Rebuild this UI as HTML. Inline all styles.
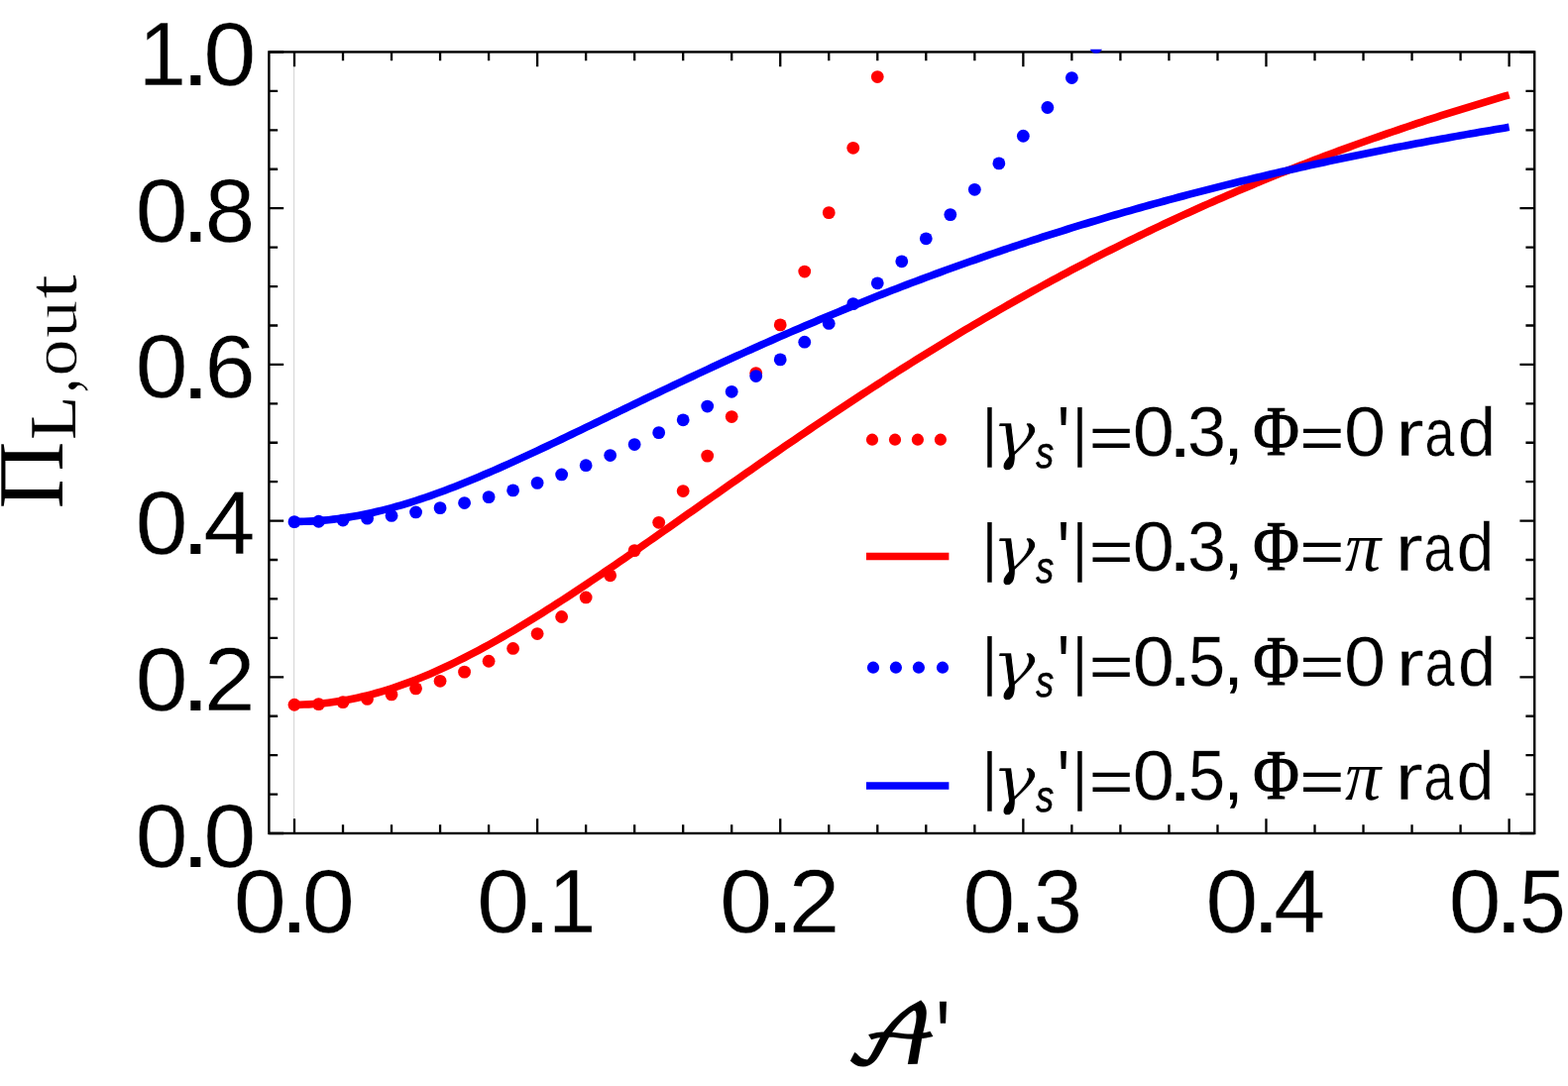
<!DOCTYPE html>
<html lang="en"><head><meta charset="utf-8"><title>Output linear polarisation versus amplitude</title>
<style>
html,body{margin:0;padding:0;background:#fff;}
body{width:1582px;height:1096px;overflow:hidden;position:relative;}
svg{position:absolute;left:0;top:0;display:block;}
text{fill:#000;}
text{font-kerning:none;font-variant-ligatures:none;white-space:pre;text-rendering:geometricPrecision;}
.sans{font-family:"Liberation Sans",sans-serif;}
.sansi{font-family:"Liberation Sans",sans-serif;font-style:italic;}
.serif{font-family:"Liberation Serif","DejaVu Serif",serif;}
.ital{font-family:"Liberation Serif","DejaVu Serif",serif;font-style:italic;}
.script{font-family:"DejaVu Math TeX Gyre","DejaVu Serif",serif;}
.dserif{font-family:"DejaVu Serif","Liberation Serif",serif;}
.dital{font-family:"DejaVu Serif","Liberation Serif",serif;font-style:italic;}
</style></head><body>
<svg width="1582" height="1096" viewBox="0 0 1582 1096" role="img" aria-label="Output linear polarisation versus amplitude for two coupling strengths and two phases">
<rect x="0" y="0" width="1582" height="1096" fill="#fff"/>
<defs><clipPath id="plot"><rect x="268.8" y="49.85" width="1282" height="793.75"/></clipPath></defs>
<line x1="296.68" y1="52.45" x2="296.68" y2="841" stroke="#d2d2d2" stroke-width="1"/>
<g stroke="#000" stroke-width="2.3" fill="none">
<path d="M297 52.45 v14.8 M297 841 v-14.8 M346.02 52.45 v8.8 M346.02 841 v-8.8 M395.05 52.45 v8.8 M395.05 841 v-8.8 M444.07 52.45 v8.8 M444.07 841 v-8.8 M493.1 52.45 v8.8 M493.1 841 v-8.8 M542.12 52.45 v14.8 M542.12 841 v-14.8 M591.14 52.45 v8.8 M591.14 841 v-8.8 M640.17 52.45 v8.8 M640.17 841 v-8.8 M689.19 52.45 v8.8 M689.19 841 v-8.8 M738.22 52.45 v8.8 M738.22 841 v-8.8 M787.24 52.45 v14.8 M787.24 841 v-14.8 M836.26 52.45 v8.8 M836.26 841 v-8.8 M885.29 52.45 v8.8 M885.29 841 v-8.8 M934.31 52.45 v8.8 M934.31 841 v-8.8 M983.34 52.45 v8.8 M983.34 841 v-8.8 M1032.36 52.45 v14.8 M1032.36 841 v-14.8 M1081.38 52.45 v8.8 M1081.38 841 v-8.8 M1130.41 52.45 v8.8 M1130.41 841 v-8.8 M1179.43 52.45 v8.8 M1179.43 841 v-8.8 M1228.46 52.45 v8.8 M1228.46 841 v-8.8 M1277.48 52.45 v14.8 M1277.48 841 v-14.8 M1326.5 52.45 v8.8 M1326.5 841 v-8.8 M1375.53 52.45 v8.8 M1375.53 841 v-8.8 M1424.55 52.45 v8.8 M1424.55 841 v-8.8 M1473.58 52.45 v8.8 M1473.58 841 v-8.8 M1522.6 52.45 v14.8 M1522.6 841 v-14.8 M271.4 841 h14.8 M1548.2 841 h-14.8 M271.4 801.58 h8.8 M1548.2 801.58 h-8.8 M271.4 762.15 h8.8 M1548.2 762.15 h-8.8 M271.4 722.73 h8.8 M1548.2 722.73 h-8.8 M271.4 683.3 h14.8 M1548.2 683.3 h-14.8 M271.4 643.88 h8.8 M1548.2 643.88 h-8.8 M271.4 604.45 h8.8 M1548.2 604.45 h-8.8 M271.4 565.02 h8.8 M1548.2 565.02 h-8.8 M271.4 525.6 h14.8 M1548.2 525.6 h-14.8 M271.4 486.18 h8.8 M1548.2 486.18 h-8.8 M271.4 446.75 h8.8 M1548.2 446.75 h-8.8 M271.4 407.32 h8.8 M1548.2 407.32 h-8.8 M271.4 367.9 h14.8 M1548.2 367.9 h-14.8 M271.4 328.48 h8.8 M1548.2 328.48 h-8.8 M271.4 289.05 h8.8 M1548.2 289.05 h-8.8 M271.4 249.62 h8.8 M1548.2 249.62 h-8.8 M271.4 210.2 h14.8 M1548.2 210.2 h-14.8 M271.4 170.77 h8.8 M1548.2 170.77 h-8.8 M271.4 131.35 h8.8 M1548.2 131.35 h-8.8 M271.4 91.92 h8.8 M1548.2 91.92 h-8.8 M271.4 52.5 h14.8 M1548.2 52.5 h-14.8"/>
</g>
<rect x="271.4" y="52.45" width="1276.8" height="788.55" fill="none" stroke="#000" stroke-width="2.4"/>
<g clip-path="url(#plot)">
<g fill="#ff0000">
<circle cx="297" cy="711.27" r="6.4"/>
<circle cx="321.51" cy="710.63" r="6.4"/>
<circle cx="346.02" cy="708.71" r="6.4"/>
<circle cx="370.54" cy="705.47" r="6.4"/>
<circle cx="395.05" cy="700.88" r="6.4"/>
<circle cx="419.56" cy="694.86" r="6.4"/>
<circle cx="444.07" cy="687.32" r="6.4"/>
<circle cx="468.58" cy="678.15" r="6.4"/>
<circle cx="493.1" cy="667.24" r="6.4"/>
<circle cx="517.61" cy="654.44" r="6.4"/>
<circle cx="542.12" cy="639.58" r="6.4"/>
<circle cx="566.63" cy="622.48" r="6.4"/>
<circle cx="591.14" cy="602.94" r="6.4"/>
<circle cx="615.66" cy="580.73" r="6.4"/>
<circle cx="640.17" cy="555.61" r="6.4"/>
<circle cx="664.68" cy="527.33" r="6.4"/>
<circle cx="689.19" cy="495.59" r="6.4"/>
<circle cx="713.7" cy="460.11" r="6.4"/>
<circle cx="738.22" cy="420.56" r="6.4"/>
<circle cx="762.73" cy="376.61" r="6.4"/>
<circle cx="787.24" cy="327.89" r="6.4"/>
<circle cx="811.75" cy="274.03" r="6.4"/>
<circle cx="836.26" cy="214.63" r="6.4"/>
<circle cx="860.78" cy="149.29" r="6.4"/>
<circle cx="885.29" cy="77.55" r="6.4"/>
</g>
<path d="M297 711.23 L301.9 711.19 L306.8 711.06 L311.71 710.85 L316.61 710.55 L321.51 710.17 L326.41 709.71 L331.32 709.16 L336.22 708.53 L341.12 707.82 L346.02 707.02 L350.93 706.15 L355.83 705.19 L360.73 704.16 L365.63 703.05 L370.54 701.86 L375.44 700.59 L380.34 699.25 L385.24 697.83 L390.15 696.35 L395.05 694.79 L399.95 693.16 L404.85 691.46 L409.76 689.69 L414.66 687.86 L419.56 685.96 L424.46 684 L429.36 681.98 L434.27 679.89 L439.17 677.75 L444.07 675.55 L448.97 673.3 L453.88 670.99 L458.78 668.62 L463.68 666.21 L468.58 663.74 L473.49 661.23 L478.39 658.67 L483.29 656.06 L488.19 653.41 L493.1 650.72 L498 647.99 L502.9 645.21 L507.8 642.4 L512.71 639.55 L517.61 636.67 L522.51 633.75 L527.41 630.79 L532.32 627.81 L537.22 624.8 L542.12 621.75 L547.02 618.68 L551.92 615.58 L556.83 612.46 L561.73 609.31 L566.63 606.14 L571.53 602.95 L576.44 599.74 L581.34 596.5 L586.24 593.25 L591.14 589.98 L596.05 586.69 L600.95 583.39 L605.85 580.07 L610.75 576.74 L615.66 573.39 L620.56 570.03 L625.46 566.66 L630.36 563.28 L635.27 559.89 L640.17 556.5 L645.07 553.09 L649.97 549.67 L654.88 546.25 L659.78 542.83 L664.68 539.4 L669.58 535.96 L674.48 532.52 L679.39 529.08 L684.29 525.63 L689.19 522.18 L694.09 518.73 L699 515.28 L703.9 511.83 L708.8 508.38 L713.7 504.93 L718.61 501.49 L723.51 498.04 L728.41 494.6 L733.31 491.15 L738.22 487.72 L743.12 484.28 L748.02 480.85 L752.92 477.43 L757.83 474.01 L762.73 470.59 L767.63 467.19 L772.53 463.78 L777.44 460.39 L782.34 457 L787.24 453.62 L792.14 450.24 L797.04 446.88 L801.95 443.52 L806.85 440.17 L811.75 436.83 L816.65 433.5 L821.56 430.18 L826.46 426.87 L831.36 423.57 L836.26 420.28 L841.17 417 L846.07 413.73 L850.97 410.47 L855.87 407.22 L860.78 403.98 L865.68 400.76 L870.58 397.55 L875.48 394.35 L880.39 391.16 L885.29 387.98 L890.19 384.82 L895.09 381.67 L900 378.53 L904.9 375.41 L909.8 372.29 L914.7 369.2 L919.6 366.11 L924.51 363.04 L929.41 359.98 L934.31 356.94 L939.21 353.91 L944.12 350.9 L949.02 347.89 L953.92 344.91 L958.82 341.94 L963.73 338.98 L968.63 336.03 L973.53 333.11 L978.43 330.19 L983.34 327.29 L988.24 324.41 L993.14 321.54 L998.04 318.68 L1002.95 315.84 L1007.85 313.02 L1012.75 310.21 L1017.65 307.41 L1022.56 304.63 L1027.46 301.87 L1032.36 299.12 L1037.26 296.39 L1042.16 293.67 L1047.07 290.96 L1051.97 288.28 L1056.87 285.6 L1061.77 282.94 L1066.68 280.3 L1071.58 277.68 L1076.48 275.06 L1081.38 272.47 L1086.29 269.89 L1091.19 267.32 L1096.09 264.77 L1100.99 262.23 L1105.9 259.71 L1110.8 257.21 L1115.7 254.72 L1120.6 252.24 L1125.51 249.78 L1130.41 247.34 L1135.31 244.91 L1140.21 242.49 L1145.12 240.09 L1150.02 237.71 L1154.92 235.34 L1159.82 232.98 L1164.72 230.64 L1169.63 228.32 L1174.53 226.01 L1179.43 223.71 L1184.33 221.43 L1189.24 219.17 L1194.14 216.91 L1199.04 214.68 L1203.94 212.45 L1208.85 210.24 L1213.75 208.05 L1218.65 205.87 L1223.55 203.7 L1228.46 201.55 L1233.36 199.41 L1238.26 197.29 L1243.16 195.18 L1248.07 193.09 L1252.97 191 L1257.87 188.94 L1262.77 186.88 L1267.68 184.84 L1272.58 182.81 L1277.48 180.8 L1282.38 178.8 L1287.28 176.81 L1292.19 174.84 L1297.09 172.88 L1301.99 170.93 L1306.89 169 L1311.8 167.08 L1316.7 165.17 L1321.6 163.28 L1326.5 161.39 L1331.41 159.52 L1336.31 157.67 L1341.21 155.82 L1346.11 153.99 L1351.02 152.17 L1355.92 150.37 L1360.82 148.57 L1365.72 146.79 L1370.63 145.02 L1375.53 143.26 L1380.43 141.52 L1385.33 139.78 L1390.24 138.06 L1395.14 136.35 L1400.04 134.65 L1404.94 132.97 L1409.84 131.29 L1414.75 129.63 L1419.65 127.98 L1424.55 126.34 L1429.45 124.71 L1434.36 123.09 L1439.26 121.48 L1444.16 119.88 L1449.06 118.3 L1453.97 116.73 L1458.87 115.16 L1463.77 113.61 L1468.67 112.07 L1473.58 110.54 L1478.48 109.02 L1483.38 107.51 L1488.28 106.01 L1493.19 104.52 L1498.09 103.04 L1502.99 101.57 L1507.89 100.11 L1512.8 98.66 L1517.7 97.22 L1522.6 95.79" fill="none" stroke="#ff0000" stroke-width="7.6" stroke-linejoin="round"/>
<g fill="#0000ff">
<circle cx="297" cy="526.64" r="6.4"/>
<circle cx="321.51" cy="526.25" r="6.4"/>
<circle cx="346.02" cy="525.09" r="6.4"/>
<circle cx="370.54" cy="523.15" r="6.4"/>
<circle cx="395.05" cy="520.43" r="6.4"/>
<circle cx="419.56" cy="516.92" r="6.4"/>
<circle cx="444.07" cy="512.63" r="6.4"/>
<circle cx="468.58" cy="507.53" r="6.4"/>
<circle cx="493.1" cy="501.63" r="6.4"/>
<circle cx="517.61" cy="494.9" r="6.4"/>
<circle cx="542.12" cy="487.35" r="6.4"/>
<circle cx="566.63" cy="478.95" r="6.4"/>
<circle cx="591.14" cy="469.7" r="6.4"/>
<circle cx="615.66" cy="459.57" r="6.4"/>
<circle cx="640.17" cy="448.56" r="6.4"/>
<circle cx="664.68" cy="436.64" r="6.4"/>
<circle cx="689.19" cy="423.81" r="6.4"/>
<circle cx="713.7" cy="410.03" r="6.4"/>
<circle cx="738.22" cy="395.3" r="6.4"/>
<circle cx="762.73" cy="379.59" r="6.4"/>
<circle cx="787.24" cy="362.89" r="6.4"/>
<circle cx="811.75" cy="345.18" r="6.4"/>
<circle cx="836.26" cy="326.44" r="6.4"/>
<circle cx="860.78" cy="306.65" r="6.4"/>
<circle cx="885.29" cy="285.78" r="6.4"/>
<circle cx="909.8" cy="263.84" r="6.4"/>
<circle cx="934.31" cy="240.79" r="6.4"/>
<circle cx="958.82" cy="216.62" r="6.4"/>
<circle cx="983.34" cy="191.32" r="6.4"/>
<circle cx="1007.85" cy="164.88" r="6.4"/>
<circle cx="1032.36" cy="137.27" r="6.4"/>
<circle cx="1056.87" cy="108.5" r="6.4"/>
<circle cx="1081.38" cy="78.55" r="6.4"/>
<circle cx="1105.9" cy="47.42" r="6.4"/>
</g>
<path d="M297 526.45 L301.9 526.41 L306.8 526.3 L311.71 526.12 L316.61 525.87 L321.51 525.54 L326.41 525.15 L331.32 524.68 L336.22 524.14 L341.12 523.54 L346.02 522.86 L350.93 522.12 L355.83 521.31 L360.73 520.43 L365.63 519.49 L370.54 518.49 L375.44 517.42 L380.34 516.3 L385.24 515.11 L390.15 513.86 L395.05 512.56 L399.95 511.2 L404.85 509.79 L409.76 508.33 L414.66 506.82 L419.56 505.25 L424.46 503.64 L429.36 501.99 L434.27 500.29 L439.17 498.54 L444.07 496.76 L448.97 494.94 L453.88 493.07 L458.78 491.18 L463.68 489.24 L468.58 487.28 L473.49 485.28 L478.39 483.26 L483.29 481.2 L488.19 479.12 L493.1 477.01 L498 474.88 L502.9 472.73 L507.8 470.55 L512.71 468.36 L517.61 466.14 L522.51 463.91 L527.41 461.66 L532.32 459.4 L537.22 457.12 L542.12 454.83 L547.02 452.53 L551.92 450.22 L556.83 447.9 L561.73 445.57 L566.63 443.23 L571.53 440.89 L576.44 438.53 L581.34 436.18 L586.24 433.82 L591.14 431.45 L596.05 429.09 L600.95 426.72 L605.85 424.35 L610.75 421.97 L615.66 419.6 L620.56 417.23 L625.46 414.86 L630.36 412.49 L635.27 410.12 L640.17 407.76 L645.07 405.4 L649.97 403.04 L654.88 400.68 L659.78 398.33 L664.68 395.98 L669.58 393.64 L674.48 391.31 L679.39 388.98 L684.29 386.65 L689.19 384.34 L694.09 382.02 L699 379.72 L703.9 377.42 L708.8 375.13 L713.7 372.85 L718.61 370.57 L723.51 368.31 L728.41 366.05 L733.31 363.8 L738.22 361.56 L743.12 359.32 L748.02 357.1 L752.92 354.88 L757.83 352.68 L762.73 350.48 L767.63 348.29 L772.53 346.11 L777.44 343.94 L782.34 341.79 L787.24 339.64 L792.14 337.5 L797.04 335.37 L801.95 333.25 L806.85 331.14 L811.75 329.04 L816.65 326.95 L821.56 324.88 L826.46 322.81 L831.36 320.75 L836.26 318.7 L841.17 316.67 L846.07 314.64 L850.97 312.63 L855.87 310.62 L860.78 308.63 L865.68 306.65 L870.58 304.67 L875.48 302.71 L880.39 300.76 L885.29 298.82 L890.19 296.89 L895.09 294.97 L900 293.07 L904.9 291.17 L909.8 289.28 L914.7 287.41 L919.6 285.55 L924.51 283.69 L929.41 281.85 L934.31 280.02 L939.21 278.2 L944.12 276.39 L949.02 274.59 L953.92 272.8 L958.82 271.02 L963.73 269.25 L968.63 267.49 L973.53 265.75 L978.43 264.01 L983.34 262.29 L988.24 260.57 L993.14 258.87 L998.04 257.18 L1002.95 255.5 L1007.85 253.82 L1012.75 252.16 L1017.65 250.51 L1022.56 248.87 L1027.46 247.24 L1032.36 245.62 L1037.26 244.01 L1042.16 242.41 L1047.07 240.82 L1051.97 239.24 L1056.87 237.68 L1061.77 236.12 L1066.68 234.57 L1071.58 233.03 L1076.48 231.5 L1081.38 229.98 L1086.29 228.48 L1091.19 226.98 L1096.09 225.49 L1100.99 224.01 L1105.9 222.54 L1110.8 221.08 L1115.7 219.63 L1120.6 218.19 L1125.51 216.76 L1130.41 215.34 L1135.31 213.93 L1140.21 212.53 L1145.12 211.14 L1150.02 209.76 L1154.92 208.38 L1159.82 207.02 L1164.72 205.66 L1169.63 204.32 L1174.53 202.98 L1179.43 201.65 L1184.33 200.33 L1189.24 199.03 L1194.14 197.72 L1199.04 196.43 L1203.94 195.15 L1208.85 193.88 L1213.75 192.61 L1218.65 191.35 L1223.55 190.11 L1228.46 188.87 L1233.36 187.64 L1238.26 186.41 L1243.16 185.2 L1248.07 183.99 L1252.97 182.8 L1257.87 181.61 L1262.77 180.43 L1267.68 179.26 L1272.58 178.09 L1277.48 176.93 L1282.38 175.79 L1287.28 174.65 L1292.19 173.51 L1297.09 172.39 L1301.99 171.27 L1306.89 170.17 L1311.8 169.06 L1316.7 167.97 L1321.6 166.89 L1326.5 165.81 L1331.41 164.74 L1336.31 163.67 L1341.21 162.62 L1346.11 161.57 L1351.02 160.53 L1355.92 159.5 L1360.82 158.47 L1365.72 157.45 L1370.63 156.44 L1375.53 155.43 L1380.43 154.44 L1385.33 153.44 L1390.24 152.46 L1395.14 151.48 L1400.04 150.51 L1404.94 149.55 L1409.84 148.59 L1414.75 147.64 L1419.65 146.7 L1424.55 145.76 L1429.45 144.83 L1434.36 143.91 L1439.26 142.99 L1444.16 142.08 L1449.06 141.18 L1453.97 140.28 L1458.87 139.39 L1463.77 138.5 L1468.67 137.62 L1473.58 136.75 L1478.48 135.88 L1483.38 135.02 L1488.28 134.17 L1493.19 133.32 L1498.09 132.48 L1502.99 131.64 L1507.89 130.81 L1512.8 129.98 L1517.7 129.16 L1522.6 128.35" fill="none" stroke="#0000ff" stroke-width="7.6" stroke-linejoin="round"/>
</g>
<g id="ticklabels">
<text><tspan class="sans" x="136.47" y="874.52" font-size="90.62" stroke="#fff" stroke-width="0.4" textLength="53.16" lengthAdjust="spacingAndGlyphs">0</tspan><tspan class="sans" x="182.86" y="874.65" font-size="93.52" textLength="29.18" lengthAdjust="spacingAndGlyphs">.</tspan><tspan class="sans" x="205.27" y="874.52" font-size="90.62" stroke="#fff" stroke-width="0.4" textLength="53.16" lengthAdjust="spacingAndGlyphs">0</tspan></text>
<text><tspan class="sans" x="136.47" y="716.82" font-size="90.62" stroke="#fff" stroke-width="0.4" textLength="53.16" lengthAdjust="spacingAndGlyphs">0</tspan><tspan class="sans" x="182.86" y="716.95" font-size="93.52" textLength="29.18" lengthAdjust="spacingAndGlyphs">.</tspan><tspan class="sans" x="206.12" y="717.05" font-size="90.95" stroke="#fff" stroke-width="0.4" textLength="51.56" lengthAdjust="spacingAndGlyphs">2</tspan></text>
<text><tspan class="sans" x="136.47" y="559.12" font-size="90.62" stroke="#fff" stroke-width="0.4" textLength="53.16" lengthAdjust="spacingAndGlyphs">0</tspan><tspan class="sans" x="182.86" y="559.25" font-size="93.52" textLength="29.18" lengthAdjust="spacingAndGlyphs">.</tspan><tspan class="sans" x="205.23" y="559.35" font-size="91.29" stroke="#fff" stroke-width="0.4" textLength="52.35" lengthAdjust="spacingAndGlyphs">4</tspan></text>
<text><tspan class="sans" x="136.47" y="401.42" font-size="90.62" stroke="#fff" stroke-width="0.4" textLength="53.16" lengthAdjust="spacingAndGlyphs">0</tspan><tspan class="sans" x="182.86" y="401.55" font-size="93.52" textLength="29.18" lengthAdjust="spacingAndGlyphs">.</tspan><tspan class="sans" x="206.43" y="401.47" font-size="89.69" stroke="#fff" stroke-width="0.4" textLength="51.14" lengthAdjust="spacingAndGlyphs">6</tspan></text>
<text><tspan class="sans" x="136.47" y="243.72" font-size="90.62" stroke="#fff" stroke-width="0.4" textLength="53.16" lengthAdjust="spacingAndGlyphs">0</tspan><tspan class="sans" x="182.86" y="243.85" font-size="93.52" textLength="29.18" lengthAdjust="spacingAndGlyphs">.</tspan><tspan class="sans" x="206.68" y="243.76" font-size="90.68" stroke="#fff" stroke-width="0.4">8</tspan></text>
<text><tspan class="sans" x="139.71" y="86.25" font-size="91.48" stroke="#fff" stroke-width="0.4" textLength="48.36" lengthAdjust="spacingAndGlyphs">1</tspan><tspan class="sans" x="182.86" y="86.15" font-size="93.52" textLength="29.18" lengthAdjust="spacingAndGlyphs">.</tspan><tspan class="sans" x="205.27" y="86.02" font-size="90.62" stroke="#fff" stroke-width="0.4" textLength="53.16" lengthAdjust="spacingAndGlyphs">0</tspan></text>
<text><tspan class="sans" x="235.87" y="941.02" font-size="90.62" stroke="#fff" stroke-width="0.4" textLength="53.16" lengthAdjust="spacingAndGlyphs">0</tspan><tspan class="sans" x="282.26" y="941.15" font-size="93.52" textLength="29.18" lengthAdjust="spacingAndGlyphs">.</tspan><tspan class="sans" x="304.67" y="941.02" font-size="90.62" stroke="#fff" stroke-width="0.4" textLength="53.16" lengthAdjust="spacingAndGlyphs">0</tspan></text>
<text><tspan class="sans" x="480.99" y="941.02" font-size="90.62" stroke="#fff" stroke-width="0.4" textLength="53.16" lengthAdjust="spacingAndGlyphs">0</tspan><tspan class="sans" x="527.38" y="941.15" font-size="93.52" textLength="29.18" lengthAdjust="spacingAndGlyphs">.</tspan><tspan class="sans" x="553.03" y="941.25" font-size="91.48" stroke="#fff" stroke-width="0.4" textLength="48.36" lengthAdjust="spacingAndGlyphs">1</tspan></text>
<text><tspan class="sans" x="726.11" y="941.02" font-size="90.62" stroke="#fff" stroke-width="0.4" textLength="53.16" lengthAdjust="spacingAndGlyphs">0</tspan><tspan class="sans" x="772.5" y="941.15" font-size="93.52" textLength="29.18" lengthAdjust="spacingAndGlyphs">.</tspan><tspan class="sans" x="795.76" y="941.25" font-size="90.95" stroke="#fff" stroke-width="0.4" textLength="51.56" lengthAdjust="spacingAndGlyphs">2</tspan></text>
<text><tspan class="sans" x="971.23" y="941.02" font-size="90.62" stroke="#fff" stroke-width="0.4" textLength="53.16" lengthAdjust="spacingAndGlyphs">0</tspan><tspan class="sans" x="1017.62" y="941.15" font-size="93.52" textLength="29.18" lengthAdjust="spacingAndGlyphs">.</tspan><tspan class="sans" x="1042.72" y="941.06" font-size="90.68" stroke="#fff" stroke-width="0.4" textLength="49.26" lengthAdjust="spacingAndGlyphs">3</tspan></text>
<text><tspan class="sans" x="1216.35" y="941.02" font-size="90.62" stroke="#fff" stroke-width="0.4" textLength="53.16" lengthAdjust="spacingAndGlyphs">0</tspan><tspan class="sans" x="1262.74" y="941.15" font-size="93.52" textLength="29.18" lengthAdjust="spacingAndGlyphs">.</tspan><tspan class="sans" x="1285.11" y="941.25" font-size="91.29" stroke="#fff" stroke-width="0.4" textLength="52.35" lengthAdjust="spacingAndGlyphs">4</tspan></text>
<text><tspan class="sans" x="1461.47" y="941.02" font-size="90.62" stroke="#fff" stroke-width="0.4" textLength="53.16" lengthAdjust="spacingAndGlyphs">0</tspan><tspan class="sans" x="1507.86" y="941.15" font-size="93.52" textLength="29.18" lengthAdjust="spacingAndGlyphs">.</tspan><tspan class="sans" x="1532.87" y="941.06" font-size="91.01" stroke="#fff" stroke-width="0.4" textLength="47.16" lengthAdjust="spacingAndGlyphs">5</tspan></text>
</g>
<text transform="rotate(-90)"><tspan class="serif" x="-513.52" y="62.6" font-size="94.23">Π</tspan><tspan class="serif" x="-443.88" y="76.3" font-size="66.74" textLength="44" lengthAdjust="spacingAndGlyphs">L</tspan><tspan class="serif" x="-396.63" y="76.94" font-size="80.99" stroke="#fff" stroke-width="0.8" textLength="15.28" lengthAdjust="spacingAndGlyphs">,</tspan><tspan class="serif" x="-379.76" y="76.96" font-size="65.08" stroke="#fff" stroke-width="0.6" textLength="37.52" lengthAdjust="spacingAndGlyphs">o</tspan><tspan class="serif" x="-340.9" y="76.67" font-size="64.64" stroke="#fff" stroke-width="0.6" textLength="37.79" lengthAdjust="spacingAndGlyphs">u</tspan><tspan class="serif" x="-301.87" y="76.9" font-size="71.76" stroke="#fff" stroke-width="0.6" textLength="24.79" lengthAdjust="spacingAndGlyphs">t</tspan></text>
<text><tspan class="script" x="851.76" y="1073.45" font-size="80.42" stroke="#000" stroke-width="1.6" textLength="95.58" lengthAdjust="spacingAndGlyphs">𝒜</tspan><tspan class="sans" x="944.04" y="1081.19" font-size="102.17" textLength="14.88" lengthAdjust="spacingAndGlyphs">'</tspan></text>
<g id="legend">
<circle cx="880" cy="443.7" r="6.1" fill="#ff0000"/>
<circle cx="903" cy="443.7" r="6.1" fill="#ff0000"/>
<circle cx="925.9" cy="443.7" r="6.1" fill="#ff0000"/>
<circle cx="948.9" cy="443.7" r="6.1" fill="#ff0000"/>
<text><tspan class="sans" x="991.24" y="457.96" font-size="64.81" textLength="14.42" lengthAdjust="spacingAndGlyphs">|</tspan><tspan class="dital" x="1000.39" y="461.48" font-size="65.65" stroke="#fff" stroke-width="0.8" textLength="44.59" lengthAdjust="spacingAndGlyphs">γ</tspan><tspan class="sansi" x="1045.21" y="471.76" font-size="44.66" stroke="#000" stroke-width="0.6" textLength="17.92" lengthAdjust="spacingAndGlyphs">s</tspan><tspan class="sans" x="1066.77" y="467.93" font-size="82.75" textLength="12.54" lengthAdjust="spacingAndGlyphs">'</tspan><tspan class="sans" x="1082.34" y="457.96" font-size="64.81" textLength="14.42" lengthAdjust="spacingAndGlyphs">|</tspan><tspan class="sans" x="1098.65" y="461.66" font-size="59.89" textLength="44.83" lengthAdjust="spacingAndGlyphs">=</tspan><tspan class="sans" x="1142.78" y="460.26" font-size="71.04" stroke="#fff" stroke-width="0.3" textLength="42.23" lengthAdjust="spacingAndGlyphs">0</tspan><tspan class="sans" x="1178.69" y="460.5" font-size="76.68" textLength="23.93" lengthAdjust="spacingAndGlyphs">.</tspan><tspan class="sans" x="1198.06" y="460.2" font-size="71.29" stroke="#fff" stroke-width="0.3" textLength="39" lengthAdjust="spacingAndGlyphs">3</tspan><tspan class="sans" x="1234.13" y="459.98" font-size="68.98" textLength="41.9" lengthAdjust="spacingAndGlyphs">, </tspan><tspan class="serif" x="1264.17" y="459.1" font-size="71.32" stroke="#000" stroke-width="1.2" textLength="46.67" lengthAdjust="spacingAndGlyphs">Φ</tspan><tspan class="sans" x="1311.32" y="461.66" font-size="59.89" textLength="45.2" lengthAdjust="spacingAndGlyphs">=</tspan><tspan class="sans" x="1355.99" y="460.26" font-size="71.04" stroke="#fff" stroke-width="0.3" textLength="42.12" lengthAdjust="spacingAndGlyphs">0</tspan><tspan class="sans" x="1384.15" y="460.05" font-size="65.79" stroke="#fff" stroke-width="0.3" textLength="52.53" lengthAdjust="spacingAndGlyphs"> r</tspan><tspan class="sans" x="1437.52" y="460.19" font-size="67.17" stroke="#fff" stroke-width="0.3" textLength="29.83" lengthAdjust="spacingAndGlyphs">a</tspan><tspan class="sans" x="1470.66" y="460.17" font-size="69.72" stroke="#fff" stroke-width="0.3" textLength="38.21" lengthAdjust="spacingAndGlyphs">d</tspan></text>
<line x1="874" y1="561.5" x2="957.4" y2="561.5" stroke="#ff0000" stroke-width="7.6"/>
<text><tspan class="sans" x="991.24" y="573.76" font-size="64.81" textLength="14.42" lengthAdjust="spacingAndGlyphs">|</tspan><tspan class="dital" x="1000.39" y="577.28" font-size="65.65" stroke="#fff" stroke-width="0.8" textLength="44.59" lengthAdjust="spacingAndGlyphs">γ</tspan><tspan class="sansi" x="1045.21" y="587.56" font-size="44.66" stroke="#000" stroke-width="0.6" textLength="17.92" lengthAdjust="spacingAndGlyphs">s</tspan><tspan class="sans" x="1066.77" y="583.73" font-size="82.75" textLength="12.54" lengthAdjust="spacingAndGlyphs">'</tspan><tspan class="sans" x="1082.34" y="573.76" font-size="64.81" textLength="14.42" lengthAdjust="spacingAndGlyphs">|</tspan><tspan class="sans" x="1098.65" y="577.46" font-size="59.89" textLength="44.83" lengthAdjust="spacingAndGlyphs">=</tspan><tspan class="sans" x="1142.78" y="576.06" font-size="71.04" stroke="#fff" stroke-width="0.3" textLength="42.23" lengthAdjust="spacingAndGlyphs">0</tspan><tspan class="sans" x="1178.69" y="576.3" font-size="76.68" textLength="23.93" lengthAdjust="spacingAndGlyphs">.</tspan><tspan class="sans" x="1198.06" y="576" font-size="71.29" stroke="#fff" stroke-width="0.3" textLength="39" lengthAdjust="spacingAndGlyphs">3</tspan><tspan class="sans" x="1234.13" y="575.78" font-size="68.98" textLength="41.9" lengthAdjust="spacingAndGlyphs">, </tspan><tspan class="serif" x="1264.17" y="574.9" font-size="71.32" stroke="#000" stroke-width="1.2" textLength="46.67" lengthAdjust="spacingAndGlyphs">Φ</tspan><tspan class="sans" x="1311.32" y="577.46" font-size="59.89" textLength="45.2" lengthAdjust="spacingAndGlyphs">=</tspan><tspan class="ital" x="1357.01" y="576.1" font-size="72.11">π</tspan><tspan class="sans" x="1383.25" y="575.85" font-size="65.79" stroke="#fff" stroke-width="0.3" textLength="52.53" lengthAdjust="spacingAndGlyphs"> r</tspan><tspan class="sans" x="1436.62" y="575.99" font-size="67.17" stroke="#fff" stroke-width="0.3" textLength="29.83" lengthAdjust="spacingAndGlyphs">a</tspan><tspan class="sans" x="1469.8" y="575.97" font-size="69.72" stroke="#fff" stroke-width="0.3" textLength="37.72" lengthAdjust="spacingAndGlyphs">d</tspan></text>
<circle cx="881" cy="673.7" r="6.1" fill="#0000ff"/>
<circle cx="903.9" cy="673.7" r="6.1" fill="#0000ff"/>
<circle cx="926.9" cy="673.7" r="6.1" fill="#0000ff"/>
<circle cx="951" cy="673.7" r="6.1" fill="#0000ff"/>
<text><tspan class="sans" x="991.24" y="689.46" font-size="64.81" textLength="14.42" lengthAdjust="spacingAndGlyphs">|</tspan><tspan class="dital" x="1000.39" y="692.98" font-size="65.65" stroke="#fff" stroke-width="0.8" textLength="44.59" lengthAdjust="spacingAndGlyphs">γ</tspan><tspan class="sansi" x="1045.21" y="703.26" font-size="44.66" stroke="#000" stroke-width="0.6" textLength="17.92" lengthAdjust="spacingAndGlyphs">s</tspan><tspan class="sans" x="1066.77" y="699.43" font-size="82.75" textLength="12.54" lengthAdjust="spacingAndGlyphs">'</tspan><tspan class="sans" x="1082.34" y="689.46" font-size="64.81" textLength="14.42" lengthAdjust="spacingAndGlyphs">|</tspan><tspan class="sans" x="1098.65" y="693.16" font-size="59.89" textLength="44.83" lengthAdjust="spacingAndGlyphs">=</tspan><tspan class="sans" x="1142.78" y="691.76" font-size="71.04" stroke="#fff" stroke-width="0.3" textLength="42.23" lengthAdjust="spacingAndGlyphs">0</tspan><tspan class="sans" x="1178.69" y="692" font-size="76.68" textLength="23.93" lengthAdjust="spacingAndGlyphs">.</tspan><tspan class="sans" x="1198.95" y="691.7" font-size="71.56" stroke="#fff" stroke-width="0.3" textLength="37.07" lengthAdjust="spacingAndGlyphs">5</tspan><tspan class="sans" x="1234.13" y="691.48" font-size="68.98" textLength="41.9" lengthAdjust="spacingAndGlyphs">, </tspan><tspan class="serif" x="1264.17" y="690.6" font-size="71.32" stroke="#000" stroke-width="1.2" textLength="46.67" lengthAdjust="spacingAndGlyphs">Φ</tspan><tspan class="sans" x="1311.32" y="693.16" font-size="59.89" textLength="45.2" lengthAdjust="spacingAndGlyphs">=</tspan><tspan class="sans" x="1355.99" y="691.76" font-size="71.04" stroke="#fff" stroke-width="0.3" textLength="42.12" lengthAdjust="spacingAndGlyphs">0</tspan><tspan class="sans" x="1384.45" y="691.55" font-size="65.79" stroke="#fff" stroke-width="0.3" textLength="52.53" lengthAdjust="spacingAndGlyphs"> r</tspan><tspan class="sans" x="1437.82" y="691.69" font-size="67.17" stroke="#fff" stroke-width="0.3" textLength="29.83" lengthAdjust="spacingAndGlyphs">a</tspan><tspan class="sans" x="1470.97" y="691.67" font-size="69.72" stroke="#fff" stroke-width="0.3" textLength="38.09" lengthAdjust="spacingAndGlyphs">d</tspan></text>
<line x1="874" y1="793" x2="957.4" y2="793" stroke="#0000ff" stroke-width="7.6"/>
<text><tspan class="sans" x="991.24" y="805.06" font-size="64.81" textLength="14.42" lengthAdjust="spacingAndGlyphs">|</tspan><tspan class="dital" x="1000.39" y="808.58" font-size="65.65" stroke="#fff" stroke-width="0.8" textLength="44.59" lengthAdjust="spacingAndGlyphs">γ</tspan><tspan class="sansi" x="1045.21" y="818.86" font-size="44.66" stroke="#000" stroke-width="0.6" textLength="17.92" lengthAdjust="spacingAndGlyphs">s</tspan><tspan class="sans" x="1066.77" y="815.03" font-size="82.75" textLength="12.54" lengthAdjust="spacingAndGlyphs">'</tspan><tspan class="sans" x="1082.34" y="805.06" font-size="64.81" textLength="14.42" lengthAdjust="spacingAndGlyphs">|</tspan><tspan class="sans" x="1098.65" y="808.76" font-size="59.89" textLength="44.83" lengthAdjust="spacingAndGlyphs">=</tspan><tspan class="sans" x="1142.78" y="807.36" font-size="71.04" stroke="#fff" stroke-width="0.3" textLength="42.23" lengthAdjust="spacingAndGlyphs">0</tspan><tspan class="sans" x="1178.69" y="807.6" font-size="76.68" textLength="23.93" lengthAdjust="spacingAndGlyphs">.</tspan><tspan class="sans" x="1198.95" y="807.3" font-size="71.56" stroke="#fff" stroke-width="0.3" textLength="37.07" lengthAdjust="spacingAndGlyphs">5</tspan><tspan class="sans" x="1234.13" y="807.08" font-size="68.98" textLength="41.9" lengthAdjust="spacingAndGlyphs">, </tspan><tspan class="serif" x="1264.17" y="806.2" font-size="71.32" stroke="#000" stroke-width="1.2" textLength="46.67" lengthAdjust="spacingAndGlyphs">Φ</tspan><tspan class="sans" x="1311.32" y="808.76" font-size="59.89" textLength="45.2" lengthAdjust="spacingAndGlyphs">=</tspan><tspan class="ital" x="1357.01" y="807.4" font-size="72.11">π</tspan><tspan class="sans" x="1383.25" y="807.15" font-size="65.79" stroke="#fff" stroke-width="0.3" textLength="52.53" lengthAdjust="spacingAndGlyphs"> r</tspan><tspan class="sans" x="1436.62" y="807.29" font-size="67.17" stroke="#fff" stroke-width="0.3" textLength="29.83" lengthAdjust="spacingAndGlyphs">a</tspan><tspan class="sans" x="1469.8" y="807.27" font-size="69.72" stroke="#fff" stroke-width="0.3" textLength="37.72" lengthAdjust="spacingAndGlyphs">d</tspan></text>
</g>
</svg>
</body></html>
